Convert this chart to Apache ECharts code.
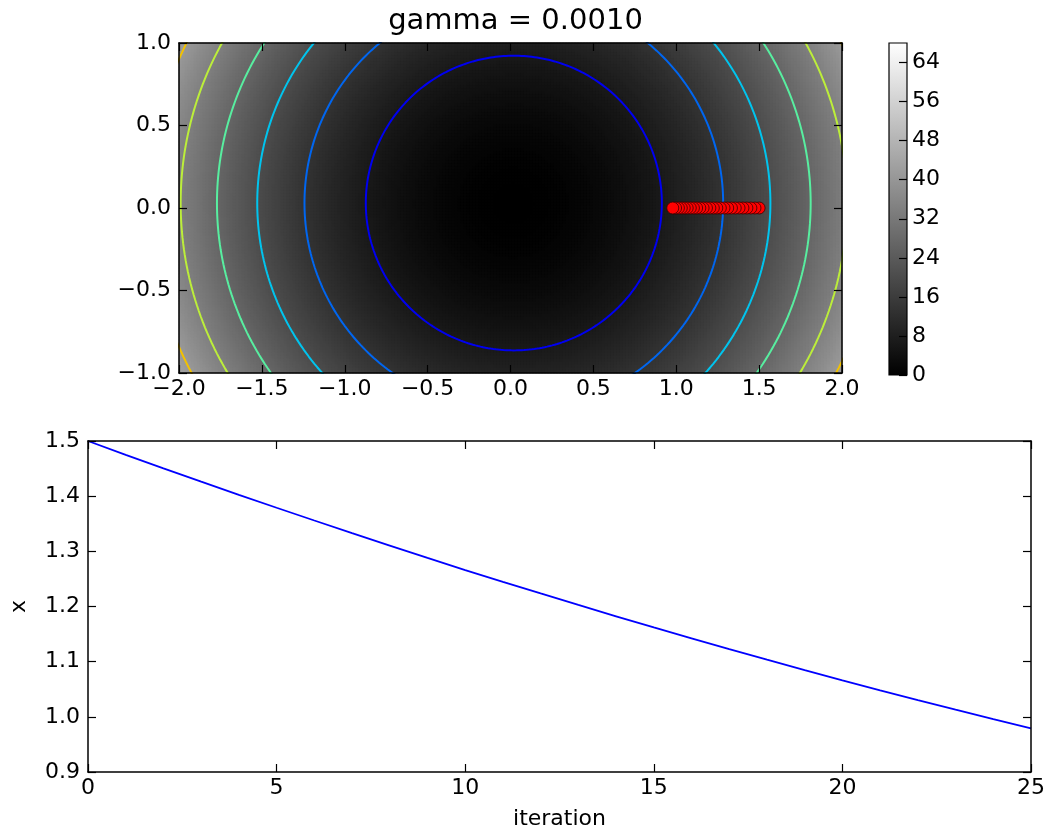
<!DOCTYPE html>
<html>
<head>
<meta charset="utf-8">
<script src="https://cdn.jsdelivr.net/npm/echarts@6/dist/echarts.min.js"></script>
<style>
  html, body { margin: 0; padding: 0; background: #ffffff; }
  #chart { width: 1047px; height: 832px; }
</style>
</head>
<body>
<div id="chart"></div>
<script>
// Gradient descent on a bowl-shaped surface: trajectory over the surface (top)
// and the x coordinate per iteration (bottom).

const gammaLabel = 'gamma = 0.0010';

// iterate history
const iterations = [0, 1, 2, 3, 4, 5, 6, 7, 8, 9, 10, 11, 12, 13, 14, 15, 16, 17, 18, 19, 20, 21, 22, 23, 24, 25];
const xHistory = [1.5000, 1.4750, 1.4504, 1.4262, 1.4024, 1.3790, 1.3559, 1.3331, 1.3105, 1.2881,
                  1.2660, 1.2447, 1.2237, 1.2029, 1.1823, 1.1620, 1.1423, 1.1229, 1.1037, 1.0847,
                  1.0660, 1.0481, 1.0305, 1.0131, 0.9959, 0.9790];
const yHistory = [0, 0, 0, 0, 0, 0, 0, 0, 0, 0, 0, 0, 0, 0, 0, 0, 0, 0, 0, 0, 0, 0, 0, 0, 0, 0];

// surface: contour levels and the radius at which each level sits
const contourLevels = [6.8, 13.6, 20.4, 27.2, 34.0, 40.8];
const contourRadii = [0.893, 1.263, 1.548, 1.791, 2.01, 2.2];
const contourCenter = [0.02, 0.03];

// colour bar range and tick values
const colorbarRange = [0, 68];
const colorbarTicks = [0, 8, 16, 24, 32, 40, 48, 56, 64];

// styling
const contourColors = ['#0000f0', '#0066f0', '#00c4ee', '#58eea0', '#bcee3a', '#f2c200'];
const FONT = 'DejaVu Sans';
const TICK_FONT = 22;

// layout (px)
const topGrid = { left: 179, top: 43, width: 663, height: 330 };
const botGrid = { left: 88, top: 441, width: 943, height: 331 };
const barGrid = { left: 889, top: 43, width: 18, height: 332 };
const gridBase = { show: false, containLabel: false, outerBoundsMode: 'none' };

// --- surface field sampled on cells, shaded from the contour levels ---
const knotsR2 = [0].concat(contourRadii.map(r => r * r));
const knotsV = [0].concat(contourLevels);
function surfaceAt(r2) {
  let k = 1;
  while (k < knotsR2.length - 1 && r2 > knotsR2[k]) k++;
  const t = (r2 - knotsR2[k - 1]) / (knotsR2[k] - knotsR2[k - 1]);
  return knotsV[k - 1] + t * (knotsV[k] - knotsV[k - 1]);
}
const NX = 221, NY = 110;
const xCells = [], yCells = [], heatData = [];
for (let i = 0; i < NX; i++) xCells.push(i);
for (let j = 0; j < NY; j++) yCells.push(j);
for (let i = 0; i < NX; i++) {
  const x = -2 + (i + 0.5) * 4 / NX;
  for (let j = 0; j < NY; j++) {
    const y = -1 + (j + 0.5) * 2 / NY;
    const dx = x - contourCenter[0], dy = y - contourCenter[1];
    heatData.push([i, j, surfaceAt(dx * dx + dy * dy)]);
  }
}

// contour rings
const contourSeries = contourRadii.map((r, k) => {
  const pts = [];
  for (let a = 0; a <= 360; a++) {
    const t = a * Math.PI / 180;
    pts.push([contourCenter[0] + r * Math.cos(t), contourCenter[1] + r * Math.sin(t)]);
  }
  return {
    type: 'line', name: 'level ' + contourLevels[k],
    xAxisIndex: 1, yAxisIndex: 1, data: pts,
    showSymbol: false, symbol: 'none', smooth: false, clip: true,
    lineStyle: { color: contourColors[k], width: 2 }, z: 3, silent: true
  };
});

const pathPoints = xHistory.map((x, i) => [x, yHistory[i]]);
const linePoints = iterations.map((it, i) => [it, xHistory[i]]);

const minus = s => s.replace('-', '\u2212');
const fmt1 = v => minus((Math.abs(v) < 1e-9 ? 0 : v).toFixed(1));

const tickStyle = { show: true, inside: true, length: 8, lineStyle: { color: '#000', width: 1.2 } };
const lineStyle = { show: true, onZero: false, lineStyle: { color: '#000', width: 1.5 } };
const labelStyle = (fmt, margin) => ({
  show: true, color: '#000', fontFamily: FONT, fontSize: TICK_FONT, margin: margin, formatter: fmt,
  showMinLabel: true, showMaxLabel: true, hideOverlap: false
});
const hiddenLabel = { show: false };

function valueAxis(gridIndex, position, min, max, interval, label) {
  return {
    type: 'value', gridIndex, position, min, max, interval, z: 10,
    axisLine: lineStyle, axisTick: tickStyle, splitLine: { show: false },
    axisLabel: label || hiddenLabel
  };
}

const chart = echarts.init(document.getElementById('chart'), null, { renderer: 'canvas' });

chart.setOption({
  animation: false,
  backgroundColor: '#ffffff',
  title: {
    text: gammaLabel, left: topGrid.left + topGrid.width / 2, top: 2, textAlign: 'center',
    textStyle: { fontFamily: FONT, fontSize: 29, fontWeight: 'normal', color: '#000' }
  },
  grid: [
    Object.assign({}, gridBase, topGrid),
    Object.assign({}, gridBase, topGrid),
    Object.assign({}, gridBase, botGrid),
    Object.assign({}, gridBase, barGrid)
  ],
  xAxis: [
    { type: 'category', gridIndex: 0, data: xCells, show: false },
    valueAxis(1, 'bottom', -2, 2, 0.5, labelStyle(fmt1, 5)),
    valueAxis(1, 'top', -2, 2, 0.5),
    Object.assign(valueAxis(2, 'bottom', 0, 25, 5, labelStyle(v => String(v), 5)), {
      name: 'iteration', nameLocation: 'middle', nameGap: 36,
      nameTextStyle: { fontFamily: FONT, fontSize: TICK_FONT, color: '#000' }
    }),
    valueAxis(2, 'top', 0, 25, 5),
    { type: 'category', gridIndex: 3, data: ['bar'], show: false }
  ],
  yAxis: [
    { type: 'category', gridIndex: 0, data: yCells, show: false },
    valueAxis(1, 'left', -1, 1, 0.5, labelStyle(fmt1, 8)),
    valueAxis(1, 'right', -1, 1, 0.5),
    Object.assign(valueAxis(2, 'left', 0.9, 1.5, 0.1, labelStyle(v => v.toFixed(1), 8)), {
      name: 'x', nameLocation: 'middle', nameGap: 58, nameRotate: 90,
      nameTextStyle: { fontFamily: FONT, fontSize: TICK_FONT, color: '#000' }
    }),
    valueAxis(2, 'right', 0.9, 1.5, 0.1),
    {
      type: 'value', gridIndex: 3, position: 'right', min: colorbarRange[0], max: colorbarRange[1],
      interval: colorbarTicks[1] - colorbarTicks[0], z: 10,
      axisLine: { show: false }, splitLine: { show: false },
      axisTick: { show: true, inside: true, length: 8, lineStyle: { color: '#000', width: 1.2 } },
      axisLabel: {
        color: '#000', fontFamily: FONT, fontSize: TICK_FONT, margin: 5, showMaxLabel: false,
        formatter: v => (colorbarTicks.indexOf(v) >= 0 ? String(v) : '')
      }
    }
  ],
  visualMap: {
    show: false, type: 'continuous', seriesIndex: 0, dimension: 2,
    min: colorbarRange[0], max: colorbarRange[1],
    inRange: { color: ['#000000', '#ffffff'] }
  },
  graphic: [{
    type: 'rect', z: 1,
    shape: { x: barGrid.left, y: barGrid.top, width: barGrid.width, height: barGrid.height },
    style: {
      fill: { type: 'linear', x: 0, y: 0, x2: 0, y2: 1,
              colorStops: [{ offset: 0, color: '#ffffff' }, { offset: 1, color: '#000000' }] },
      stroke: '#000', lineWidth: 1.2
    }
  }],
  series: [
    {
      type: 'heatmap', xAxisIndex: 0, yAxisIndex: 0, data: heatData,
      progressive: 0, silent: true, z: 1,
      itemStyle: { borderWidth: 0 }, emphasis: { disabled: true }
    }
  ].concat(contourSeries).concat([
    {
      type: 'scatter', name: 'path', xAxisIndex: 1, yAxisIndex: 1, data: pathPoints,
      symbol: 'circle', symbolSize: 12, z: 5, silent: true,
      itemStyle: { color: '#ff0000', borderColor: '#3a0000', borderWidth: 0.8, opacity: 1 }
    },
    {
      type: 'line', name: 'x', xAxisIndex: 3, yAxisIndex: 3, data: linePoints,
      showSymbol: false, symbol: 'none', z: 5, silent: true,
      lineStyle: { color: '#0000ff', width: 1.8 }
    }
  ])
});
</script>
</body>
</html>
